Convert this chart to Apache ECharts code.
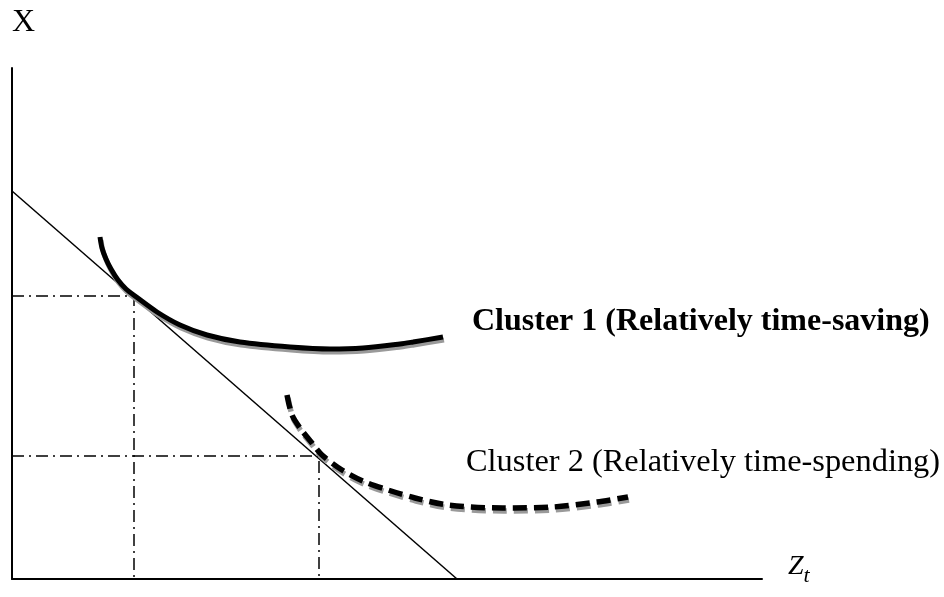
<!DOCTYPE html>
<html>
<head>
<meta charset="utf-8">
<script src="https://cdn.jsdelivr.net/npm/echarts@6/dist/echarts.min.js"></script>
<style>
html,body{margin:0;padding:0;background:#fff;}
#chart{width:944px;height:597px;}
</style>
</head>
<body>
<div id="chart"></div>
<script>
// Axis titles and labels
var yAxisTitle = 'X';
var xAxisTitleMain = 'Z';
var xAxisTitleSub = 't';
var cluster1Name = 'Cluster 1 (Relatively time-saving)';
var cluster2Name = 'Cluster 2 (Relatively time-spending)';

// Axis ranges (data units)
var xMax = 750;
var yMax = 511;

// Budget line (intercepts)
var budgetLine = [[0, 388], [445, 0]];

// Tangency points
var tangent1 = [122, 283];
var tangent2 = [307, 123];

// Indifference curves
var cluster1 = [
  [88, 342], [90, 331], [94, 320], [99, 310], [106, 299], [114, 290],
  [123, 283], [145, 267], [168, 254], [195, 244], [228, 237], [278, 232],
  [318, 230], [351, 231], [388, 235], [401, 237], [431, 242]
];
var cluster2 = [
  [275, 184], [280, 164], [288, 151], [300, 136], [310, 124], [330, 109],
  [353, 97], [376, 89], [403, 81], [436, 74], [491, 71], [541, 72],
  [585, 77], [616, 82]
];

var serif = '"Liberation Serif", "Times New Roman", serif';

function guide(p) {
  return [[0, p[1]], [p[0], p[1]], [p[0], 0]];
}

var chart = echarts.init(document.getElementById('chart'), null, {renderer: 'canvas'});
chart.setOption({
  animation: false,
  backgroundColor: '#ffffff',
  grid: {left: 12, right: 182, top: 68, bottom: 18, containLabel: false},
  xAxis: {
    type: 'value', min: 0, max: xMax,
    name: '{z|' + xAxisTitleMain + '}{t|' + xAxisTitleSub + '}',
    nameLocation: 'end', nameGap: 26,
    nameTextStyle: {
      align: 'left', verticalAlign: 'middle', padding: [0, 0, 14, 0],
      rich: {
        z: {fontFamily: serif, fontStyle: 'italic', fontSize: 28, lineHeight: 30, verticalAlign: 'bottom', padding: [0, 0, 6, 0], color: '#000'},
        t: {fontFamily: serif, fontStyle: 'italic', fontSize: 22, lineHeight: 24, verticalAlign: 'bottom', color: '#000'}
      }
    },
    axisLine: {show: true, onZero: false, lineStyle: {color: '#000', width: 2}},
    axisTick: {show: false}, axisLabel: {show: false}, splitLine: {show: false}
  },
  yAxis: {
    type: 'value', min: 0, max: yMax,
    name: yAxisTitle, nameLocation: 'end', nameGap: 45,
    nameTextStyle: {fontFamily: serif, fontSize: 32, color: '#000', align: 'left', verticalAlign: 'middle'},
    axisLine: {show: true, onZero: false, lineStyle: {color: '#000', width: 2}},
    axisTick: {show: false}, axisLabel: {show: false}, splitLine: {show: false}
  },
  series: [
    {
      type: 'line', name: 'Budget', data: budgetLine, symbol: 'none', silent: true,
      lineStyle: {color: '#000', width: 1.5}
    },
    {
      type: 'line', name: 'Guide 1', data: guide(tangent1), symbol: 'none', silent: true,
      lineStyle: {color: '#000', width: 1.5, type: [12, 5, 2, 5]}
    },
    {
      type: 'line', name: 'Guide 2', data: guide(tangent2), symbol: 'none', silent: true,
      lineStyle: {color: '#000', width: 1.5, type: [12, 5, 2, 5]}
    },
    {
      type: 'line', name: cluster1Name, data: cluster1, symbol: 'none', smooth: 0.3, silent: true,
      lineStyle: {color: '#000', width: 5, cap: 'butt', shadowColor: '#9a9a9a', shadowOffsetX: 1, shadowOffsetY: 3, shadowBlur: 0}
    },
    {
      type: 'line', name: cluster2Name, data: cluster2, symbol: 'none', smooth: 0.3, silent: true,
      lineStyle: {color: '#000', width: 5.5, type: [14, 7], cap: 'butt', shadowColor: '#9a9a9a', shadowOffsetX: 1, shadowOffsetY: 3, shadowBlur: 0}
    }
  ],
  graphic: [
    {type: 'text', x: 472, y: 322, silent: true,
     style: {text: cluster1Name, font: 'bold 32px ' + serif, fill: '#000', align: 'left', verticalAlign: 'middle'}},
    {type: 'text', x: 466, y: 462, silent: true,
     style: {text: cluster2Name, font: '32.4px ' + serif, fill: '#000', align: 'left', verticalAlign: 'middle'}}
  ]
});
</script>
</body>
</html>
